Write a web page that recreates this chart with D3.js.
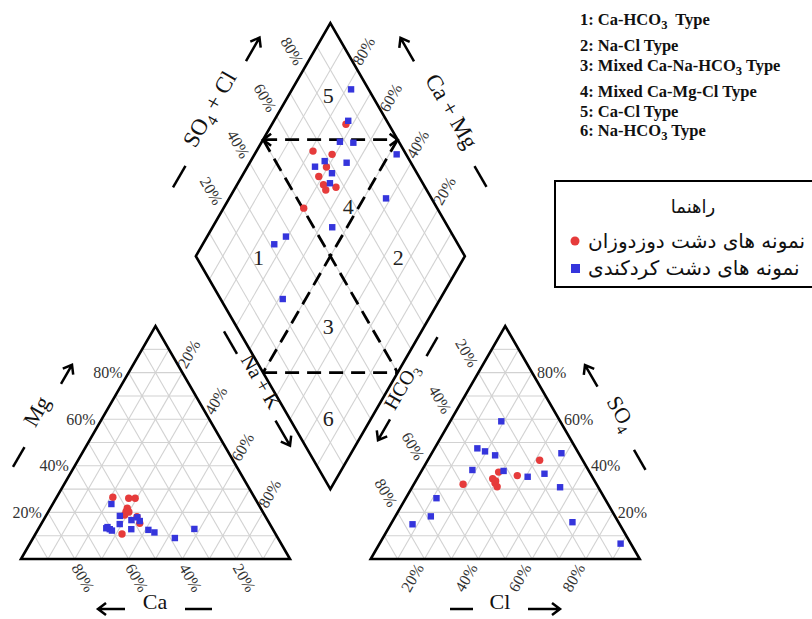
<!DOCTYPE html>
<html><head><meta charset="utf-8">
<script src="https://cdn.jsdelivr.net/npm/d3@7"></script>
<style>body{margin:0;background:#fff}</style>
</head><body><svg id="c" width="812" height="619"></svg>
<script>
// ---- DATA (percent) ----
// cation triangle: [Ca, Mg, Na+K]
const cationRed = [[52.6,26.5,20.9],[46.9,26.1,27.0],[44.5,26.1,29.4],[49.6,21.8,28.6],[50.8,20.3,28.9],[52.0,18.9,29.1],[47.8,18.2,34.0],[48.2,15.3,36.5],[57.1,10.7,32.2],[49.8,20.2,30.0]];
const cationBlue = [[54.6,23.6,21.8],[54.0,18.5,27.5],[55.8,15.0,29.2],[50.6,16.7,32.7],[47.8,17.9,34.3],[47.7,16.3,36.0],[52.6,12.8,34.6],[61.7,13.2,25.1],[60.6,12.8,26.6],[60.1,12.2,27.7],[46.4,12.5,41.1],[44.7,11.4,43.9],[38.3,9.0,52.7],[29.1,12.9,58.0],[61.0,13.7,25.3]];
// anion triangle: [HCO3, SO4, Cl]
const anionRed = [[16.0,42.4,41.6],[33.8,37.3,28.9],[27.6,35.8,36.6],[37.4,34.5,28.1],[49.6,32.1,18.3],[37.5,32.6,29.9],[37.5,31.0,31.5],[36.8,33.5,29.7]];
const anionBlue = [[21.9,59.1,19.0],[36.6,47.5,15.9],[34.4,46.2,19.4],[31.5,44.5,24.0],[6.4,45.4,48.2],[43.1,38.2,18.7],[31.7,37.8,30.5],[24.0,35.3,40.7],[17.1,36.6,46.3],[14.2,30.8,55.0],[62.5,26.1,11.4],[68.5,18.3,13.2],[77.0,14.9,8.1],[17.1,15.8,67.1],[3.8,6.6,89.6]];
// diamond: [Ca+Mg, SO4+Cl]
const diamondRed = [[72.5,84.1],[79.0,66.1],[71.2,72.5],[70.6,67.7],[71.4,62.8],[67.9,62.8],[65.9,62.5],[62.7,66.9],[70.2,50.4]];
const diamondBlue = [[78.1,93.5],[72.4,85.7],[71.0,78.1],[65.8,82.9],[47.2,96.5],[72.5,68.3],[64.0,76.1],[74.9,63.5],[67.2,68.4],[65.8,65.5],[41.7,83.1],[55.5,56.9],[70.7,37.7],[73.4,31.7],[58.5,23.1]];
// region numbers in diamond: [label, Ca+Mg, SO4+Cl]
const regionLabels = [["5",85.3,83.8],["4",53.9,67.3],["1",76.6,23.1],["2",24.6,75.1],["3",35.6,34.1],["6",16.0,14.5]];
const tickValues = [20,40,60,80];
const typeLabels = ["1: Ca-HCO_3  Type","2: Na-Cl Type","3: Mixed Ca-Na-HCO_3 Type","4: Mixed Ca-Mg-Cl Type","5: Ca-Cl Type","6: Na-HCO_3 Type"];
const legendTitle = "راهنما";
const seriesNames = ["نمونه های دشت دوزدوزان","نمونه های دشت کردکندی"];
const seriesColors = ["#e63b3b","#3535dc"];

// ---- GEOMETRY ----
const S = 269, X0 = 21, Y0 = 559, GAP = 0.3, H = Math.sqrt(3)/2;
const x = d3.scaleLinear().domain([0,1]).range([X0, X0+S]);
const y = d3.scaleLinear().domain([0,1]).range([Y0, Y0-S]);
const B = [1+GAP/2, (GAP/2)*Math.sqrt(3)];
const ORX = 1+GAP;
function triPt(ox,l,r,t){ const R=r/100,T=t/100; return [x(ox+R+T/2), y(T*H)]; }
function diaPt(a,b){ a/=100; b/=100; return [x(B[0]+0.5*(b-a)), y(B[1]+H*(a+b))]; }

const svg = d3.select("#c");
const gGrid = svg.append("g").attr("stroke","#d2d2d2").attr("stroke-width",1.1);
const line = (g,p,q)=>g.append("line").attr("x1",p[0]).attr("y1",p[1]).attr("x2",q[0]).attr("y2",q[1]);
const steps = d3.range(10,100,10);
[0,ORX].forEach(ox=>{
  steps.forEach(t=>{
    line(gGrid, triPt(ox,100-t,0,t), triPt(ox,0,100-t,t));
    line(gGrid, triPt(ox,100-t,t,0), triPt(ox,0,t,100-t));
    line(gGrid, triPt(ox,t,100-t,0), triPt(ox,t,0,100-t));
  });
});
steps.forEach(t=>{
  line(gGrid, diaPt(t,0), diaPt(t,100));
  line(gGrid, diaPt(0,t), diaPt(100,t));
});

// dashed classification lines
const gDash = svg.append("g").attr("stroke","#000").attr("stroke-width",2.8).attr("stroke-dasharray","14,8").attr("fill","none");
line(gDash, diaPt(100,50), diaPt(50,100));
line(gDash, diaPt(50,0), diaPt(0,50));
line(gDash, diaPt(100,50), diaPt(0,50));
line(gDash, diaPt(50,100), diaPt(50,0));
[[diaPt(100,50),-1],[diaPt(50,100),1]].forEach(([p,d])=>{
  svg.append("path").attr("d",`M${p[0]-d*8},${p[1]-6} L${p[0]},${p[1]} L${p[0]-d*8},${p[1]+6}`)
    .attr("fill","none").attr("stroke","#000").attr("stroke-width",2.5);
});

// outlines
const gOut = svg.append("g").attr("stroke","#000").attr("stroke-width",2.6).attr("fill","none").attr("stroke-linejoin","miter");
[0,ORX].forEach(ox=>{
  const pts=[triPt(ox,100,0,0),triPt(ox,0,100,0),triPt(ox,0,0,100)];
  gOut.append("path").attr("d","M"+pts.join("L")+"Z");
});
gOut.append("path").attr("d","M"+[diaPt(0,0),diaPt(100,0),diaPt(100,100),diaPt(0,100)].join("L")+"Z");

// region numbers
svg.append("g").selectAll("text").data(regionLabels).join("text")
  .attr("x",d=>diaPt(d[1],d[2])[0]).attr("y",d=>diaPt(d[1],d[2])[1]).attr("dy","0.35em")
  .attr("text-anchor","middle").attr("font-family","Liberation Serif").attr("font-size",22).attr("fill","#222")
  .text(d=>d[0]);

// tick labels
const tf = {"font-family":"Liberation Serif","font-size":16,"fill":"#333"};
function tick(p,dx,dy,ang,anchor,txt){
  const t=svg.append("text").attr("transform",`translate(${p[0]+dx},${p[1]+dy}) rotate(${ang})`)
    .attr("text-anchor",anchor).attr("dy","0.35em").text(txt);
  Object.entries(tf).forEach(([k,v])=>t.attr(k,v));
}
tickValues.forEach(t=>{
  const s=t+"%";
  tick(triPt(0,100-t,0,t),-6,0,0,"end",s);          // Mg
  tick(triPt(0,t,100-t,0),1,6,60,"start",s);        // Ca
  tick(triPt(0,0,t,100-t),-1,-6,-60,"start",s);     // Na+K
  tick(triPt(ORX,t,0,100-t),-4,-7,60,"end",s);      // HCO3
  tick(triPt(ORX,0,100-t,t),5,0,0,"start",s);       // SO4
  tick(triPt(ORX,100-t,t,0),-5,6,-60,"end",s);      // Cl
  tick(diaPt(100,t),-4,-6,60,"end",s);              // SO4+Cl
  tick(diaPt(t,100),-1,-6,-60,"start",s);           // Ca+Mg
});

// axis titles
function title(cx,cy,ang,parts,size,dash,arrow){
  const g=svg.append("g").attr("transform",`translate(${cx},${cy}) rotate(${ang})`);
  const t=g.append("text").attr("text-anchor","middle").attr("dy","0.35em")
    .attr("font-family","Liberation Serif").attr("font-size",size).attr("fill","#111");
  parts.forEach(p=>{
    if(p[1]) t.append("tspan").attr("font-size",size*0.68).attr("dy",size*0.25).text(p[0]);
    else t.append("tspan").attr("dy",p[2]||0).text(p[0]);
  });
  g.append("line").attr("x1",dash[0]).attr("x2",dash[1]).attr("y1",0).attr("y2",0).attr("stroke","#000").attr("stroke-width",2.5);
  const [a1,a2]=arrow, d=Math.sign(a2-a1);
  g.append("path").attr("d",`M${a1},0 L${a2},0 M${a2-d*8},-6 L${a2},0 L${a2-d*8},6`)
    .attr("fill","none").attr("stroke","#000").attr("stroke-width",2.5);
}
title(43,415,-60,[["Mg"]],22,[-60,-37],[36,58]);
title(155,609,0,[["Ca"]],22,[30,57],[-30,-57]);
title(255,385,60,[["Na + K"]],20,[-62,-36],[41,70]);
title(407,390,-60,[["HCO"],["3",1]],20,[39,61],[-34,-58]);
title(615,417,60,[["SO"],["4",1]],22,[38,61],[-35,-60]);
title(500,609,0,[["Cl"]],22,[-50,-27],[28,60]);
title(216,113,-60,[["SO"],["4",1],[" + Cl",0,-5.5]],23,[-86,-61],[60,87]);
title(445,115,60,[["Ca + Mg"]],23,[59,83],[-62,-89]);

// points
function pts(data,fn,kind,color){
  const g=svg.append("g").attr("fill",color);
  data.forEach(d=>{
    const p=fn(d);
    if(kind==="c") g.append("circle").attr("cx",p[0]).attr("cy",p[1]).attr("r",3.7);
    else g.append("rect").attr("x",p[0]-3.2).attr("y",p[1]-3.2).attr("width",6.4).attr("height",6.4);
  });
}
pts(cationRed,d=>triPt(0,d[0],d[2],d[1]),"c",seriesColors[0]);
pts(anionRed,d=>triPt(ORX,d[0],d[2],d[1]),"c",seriesColors[0]);
pts(diamondRed,d=>diaPt(d[0],d[1]),"c",seriesColors[0]);
pts(cationBlue,d=>triPt(0,d[0],d[2],d[1]),"s",seriesColors[1]);
pts(anionBlue,d=>triPt(ORX,d[0],d[2],d[1]),"s",seriesColors[1]);
pts(diamondBlue,d=>diaPt(d[0],d[1]),"s",seriesColors[1]);

// type list
const baselines=[25,51,71,97,117,136];
typeLabels.forEach((s,i)=>{
  const t=svg.append("text").attr("x",580).attr("y",baselines[i]).attr("font-family","Liberation Serif")
    .attr("font-weight","bold").attr("font-size",16.5).attr("fill","#111").style("white-space","pre");
  s.split(/(_\d)/).forEach(seg=>{
    if(seg.startsWith("_")) t.append("tspan").attr("font-size",12.5).attr("dy",4).text(seg.slice(1));
    else if(seg.length){ const sp=t.append("tspan").text(seg); if(t.selectAll("tspan").size()>1) sp.attr("dy",-4); }
  });
});

// legend box
svg.append("rect").attr("x",555).attr("y",181).attr("width",300).attr("height",106)
  .attr("fill","#fff").attr("stroke","#000").attr("stroke-width",2);
svg.append("text").attr("x",693).attr("y",213).attr("text-anchor","middle")
  .attr("font-family","DejaVu Sans").attr("font-size",18).attr("fill","#111").text(legendTitle);
svg.append("circle").attr("cx",575).attr("cy",241).attr("r",4.5).attr("fill",seriesColors[0]);
svg.append("rect").attr("x",571).attr("y",264).attr("width",9).attr("height",9).attr("fill",seriesColors[1]);
seriesNames.forEach((n,i)=>{
  svg.append("text").attr("x",588).attr("y",[248,275][i]).attr("font-family","DejaVu Sans")
    .attr("font-size",20).attr("fill","#111").text(n);
});
</script></body></html>
